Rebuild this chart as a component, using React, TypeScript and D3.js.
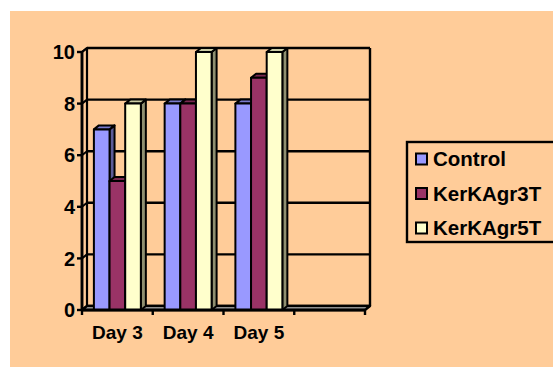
import * as d3 from 'd3';
import React from 'react';

// chart values
const categories = ["Day 3", "Day 4", "Day 5", ""];
const seriesNames = ["Control", "KerKAgr3T", "KerKAgr5T"];
const control = [7, 8, 8];
const kerk3T = [5, 8, 9];
const kerk5T = [8, 10, 10];
const yTicks = [0, 2, 4, 6, 8, 10];

// front face, top face, side face
const faces = {
  Control: ["#9999FF", "#7A7ACC", "#5C5C99"],
  KerKAgr3T: ["#993366", "#7A2952", "#5C1F3D"],
  KerKAgr5T: ["#FFFFCC", "#CCCCA3", "#8F8F70"],
};

const W = 553, H = 367;
const left = 82, right = 365, base = 310, top = 52;
const dx = 5, dy = 4; // depth of the 3d box
const font = "'Liberation Sans', Arial, sans-serif";

function App() {
  const values = [control, kerk3T, kerk5T];
  const x0 = d3.scaleBand(categories, [left, right]).padding(0);
  const x1 = d3.scaleBand(seriesNames, [0, x0.bandwidth()]).paddingInner(0).paddingOuter(0.76);
  const y = d3.scaleLinear([0, 10], [base, top]);

  const bars = [];
  categories.forEach((c, ci) => {
    seriesNames.forEach((s, si) => {
      const v = values[si][ci];
      if (v === undefined) return;
      const x = x0(c) + x1(s), w = x1.bandwidth(), t = y(v), b = y(0);
      bars.push({ key: c + s, s, x, w, t, b });
    });
  });

  const stroke = { stroke: "#000", strokeWidth: 2, strokeLinejoin: "round" };

  return (
    <svg width={W} height={H} style={{ position: "absolute", left: 0, top: 0, display: "block" }}>
      <rect x={10} y={11} width={W - 10} height={H - 11} fill="#FFCC99" />

      {/* back wall gridlines */}
      {yTicks.map(t => (
        <line key={"g" + t} x1={left + dx} x2={right + dx} y1={y(t) - dy} y2={y(t) - dy} stroke="#000" strokeWidth={2.4} />
      ))}
      <line x1={right + dx} x2={right + dx} y1={y(10) - dy} y2={y(0) - dy} stroke="#000" strokeWidth={2.4} />

      {/* left wall */}
      <polygon points={`${left},${y(10)} ${left + dx},${y(10) - dy} ${left + dx},${y(0) - dy} ${left},${y(0)}`} fill="#FFCC99" {...stroke} strokeWidth={2.2} />
      {yTicks.map(t => (
        <line key={"w" + t} x1={left} x2={left + dx} y1={y(t)} y2={y(t) - dy} stroke="#000" strokeWidth={2} />
      ))}

      {/* floor */}
      <polygon points={`${left},${base} ${left + dx},${base - dy} ${right + dx},${base - dy} ${right},${base}`} fill="#C0C0C0" {...stroke} strokeWidth={2.4} />

      {/* bars */}
      {bars.map(d => {
        const [f, tp, sd] = faces[d.s];
        return (
          <g key={d.key}>
            <polygon points={`${d.x + d.w},${d.t} ${d.x + d.w + dx},${d.t - dy} ${d.x + d.w + dx},${d.b - dy} ${d.x + d.w},${d.b}`} fill={sd} {...stroke} />
            <polygon points={`${d.x},${d.t} ${d.x + dx},${d.t - dy} ${d.x + d.w + dx},${d.t - dy} ${d.x + d.w},${d.t}`} fill={tp} {...stroke} />
            <rect x={d.x} y={d.t} width={d.w} height={d.b - d.t} fill={f} {...stroke} />
          </g>
        );
      })}

      {/* value axis */}
      <line x1={left} x2={left} y1={y(10)} y2={y(0)} stroke="#000" strokeWidth={2.8} />
      {yTicks.map(t => (
        <g key={"t" + t}>
          <line x1={left - 5} x2={left} y1={y(t)} y2={y(t)} stroke="#000" strokeWidth={2.4} />
          <text x={75} y={y(t)} dy="0.36em" textAnchor="end" fontFamily={font} fontWeight="bold" fontSize={20}>{t}</text>
        </g>
      ))}

      {/* category axis */}
      <line x1={left} x2={right} y1={base} y2={base} stroke="#000" strokeWidth={3} />
      {categories.map(c => x0(c)).concat([right]).map((x, i) => (
        <line key={"c" + i} x1={x} x2={x} y1={base} y2={base + 5} stroke="#000" strokeWidth={2.4} />
      ))}
      {categories.map(c => (
        <text key={"l" + c} x={x0(c) + x0.bandwidth() / 2} y={339} textAnchor="middle" fontFamily={font} fontWeight="bold" fontSize={19}>{c}</text>
      ))}

      {/* legend */}
      <rect x={407} y={142} width={170} height={100} fill="none" stroke="#000" strokeWidth={2.4} />
      {seriesNames.map((s, i) => {
        const cy = 159 + i * 34.5;
        return (
          <g key={"lg" + s}>
            <rect x={416} y={cy - 5.5} width={11} height={11} fill={faces[s][0]} stroke="#000" strokeWidth={2} />
            <text x={433} y={cy} dy="0.36em" fontFamily={font} fontWeight="bold" fontSize={20.5}>{s}</text>
          </g>
        );
      })}
    </svg>
  );
}

export default App;
